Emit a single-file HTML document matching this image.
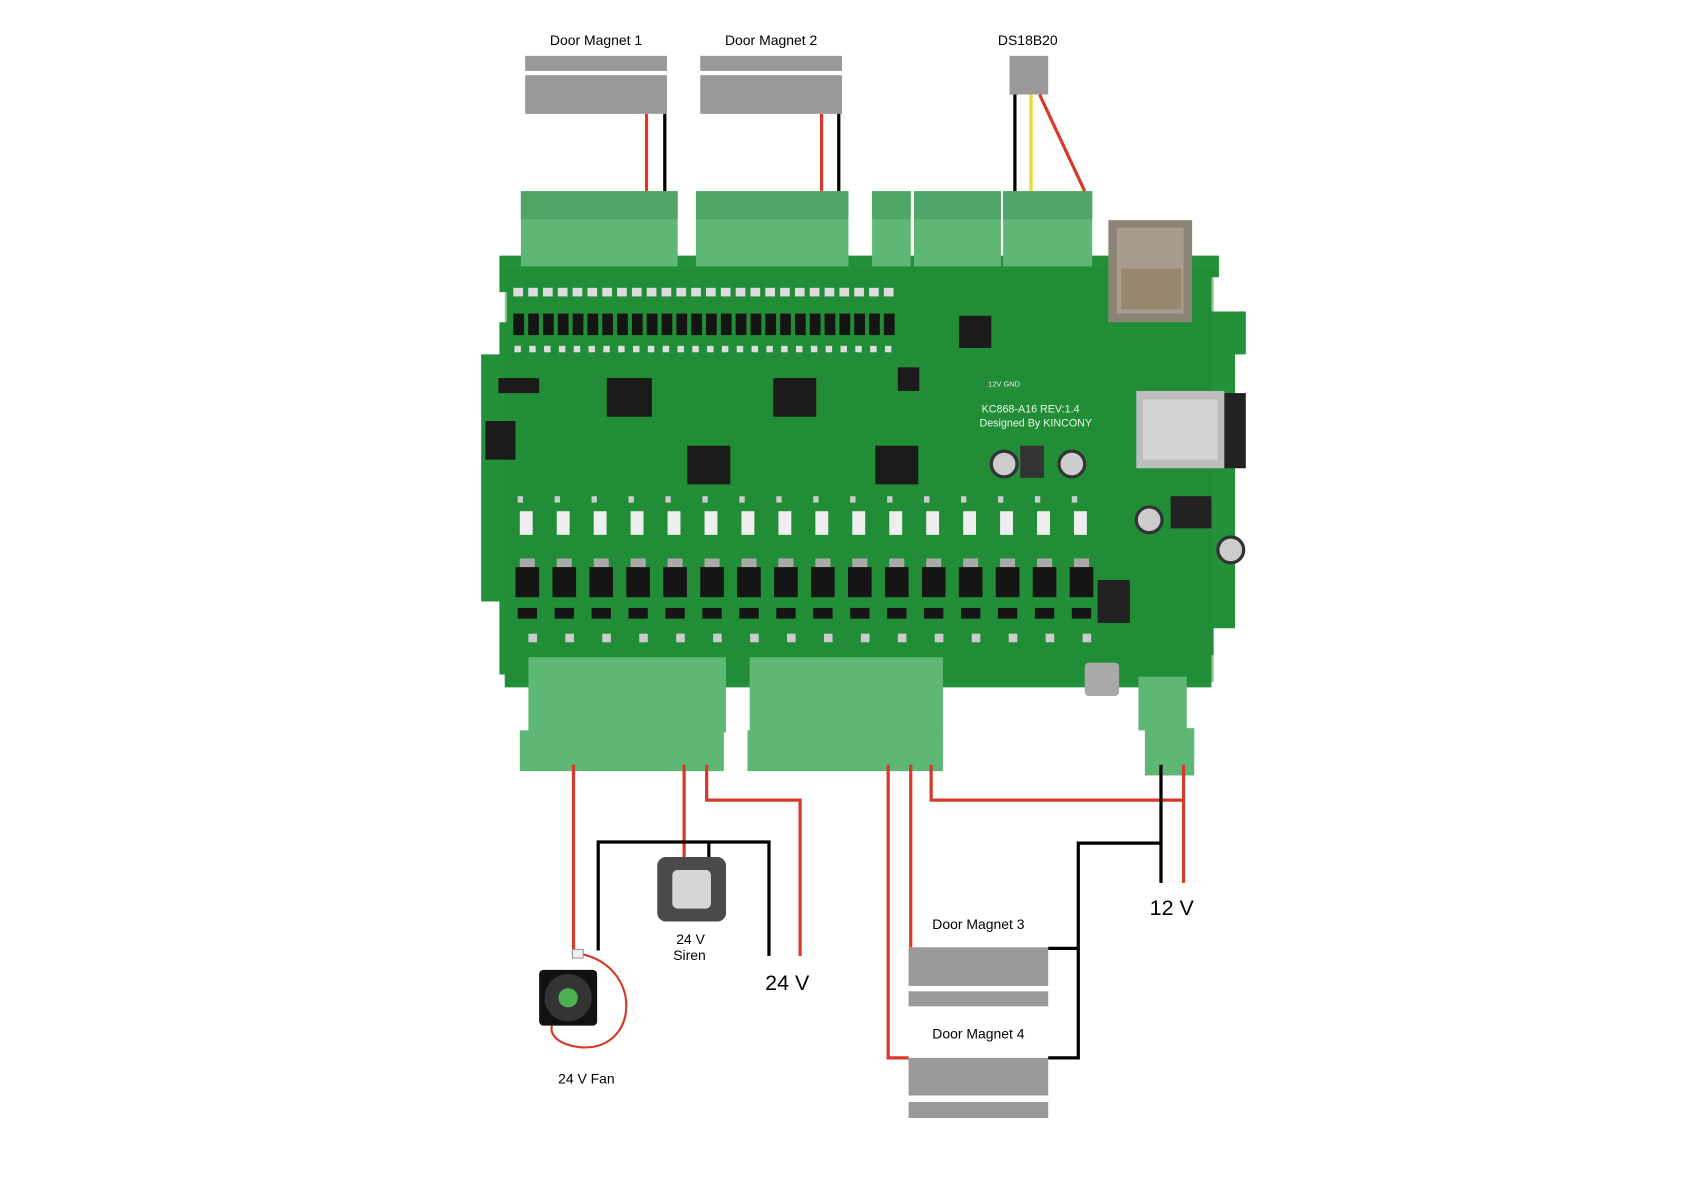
<!DOCTYPE html>
<html><head><meta charset="utf-8">
<style>
html,body{margin:0;padding:0;background:#fff;width:1684px;height:1190px;overflow:hidden}
svg{display:block}
text{font-family:"Liberation Sans",sans-serif;fill:#000}
</style></head><body>
<svg id="s" width="1684" height="1190" viewBox="0 0 1568 1108" preserveAspectRatio="none" xmlns="http://www.w3.org/2000/svg">
<path d="M465 238 H1135 V258 H1128 V290 H1160 V330 H1150 V585 H1130 V610 H1128 V640 H470 V628 H465 V560 H448 V330 H465 V300 H472 V272 H465 Z" fill="#23913a"/>
<rect x="470" y="250" width="660" height="385" fill="#1f8a33" opacity="0.5"/>
<rect x="1032" y="205" width="78" height="95" fill="#8d8478"/>
<rect x="1040" y="212" width="62" height="80" fill="#a89c8c"/>
<rect x="1044" y="250" width="56" height="38" fill="#9a8770"/>
<rect x="1138" y="366" width="22" height="70" fill="#222"/>
<rect x="1058" y="364" width="82" height="72" fill="#bdbdbd"/>
<rect x="1064" y="372" width="70" height="56" fill="#d3d3d3"/>
<rect x="565" y="352" width="42" height="36" fill="#1b1b1b"/>
<rect x="720" y="352" width="40" height="36" fill="#1b1b1b"/>
<rect x="640" y="415" width="40" height="36" fill="#1b1b1b"/>
<rect x="815" y="415" width="40" height="36" fill="#1b1b1b"/>
<rect x="893" y="294" width="30" height="30" fill="#1b1b1b"/>
<rect x="836" y="342" width="20" height="22" fill="#1b1b1b"/>
<rect x="950" y="415" width="22" height="30" fill="#333"/>
<circle cx="935" cy="432" r="12" fill="#ccc" stroke="#333" stroke-width="3"/>
<circle cx="998" cy="432" r="12" fill="#ccc" stroke="#333" stroke-width="3"/>
<circle cx="1070" cy="484" r="12" fill="#ccc" stroke="#333" stroke-width="3"/>
<circle cx="1146" cy="512" r="12" fill="#ccc" stroke="#333" stroke-width="3"/>
<rect x="1090" y="462" width="38" height="30" fill="#222"/>
<rect x="1022" y="540" width="30" height="40" fill="#222"/>
<rect x="452" y="392" width="28" height="36" fill="#1b1b1b"/>
<rect x="464" y="352" width="38" height="14" fill="#1b1b1b"/>
<text x="914" y="384" font-size="10" style="fill:#e8f5e8">KC868-A16   REV:1.4</text>
<text x="912" y="397" font-size="10" style="fill:#e8f5e8">Designed By  KINCONY</text>
<text x="920" y="360" font-size="7" style="fill:#e8f5e8">12V  GND</text>
<g id="rep"></g>
<g fill="#5fb775">
<rect x="485" y="178" width="146" height="70"/>
<rect x="648" y="178" width="142" height="70"/>
<rect x="812" y="178" width="36" height="70"/>
<rect x="851" y="178" width="81" height="70"/>
<rect x="934" y="178" width="83" height="70"/>
</g>
<g fill="#4fa566">
<rect x="485" y="178" width="146" height="26"/>
<rect x="648" y="178" width="142" height="26"/>
<rect x="812" y="178" width="36" height="26"/>
<rect x="851" y="178" width="81" height="26"/>
<rect x="934" y="178" width="83" height="26"/>
</g>
<g fill="#5fb775">
<rect x="492" y="612" width="184" height="70"/>
<rect x="698" y="612" width="180" height="70"/>
<rect x="484" y="680" width="190" height="38"/>
<rect x="696" y="680" width="182" height="38"/>
<rect x="1060" y="630" width="45" height="50"/>
<rect x="1066" y="678" width="46" height="44"/>
</g>
<rect x="1010" y="617" width="32" height="31" rx="4" fill="#a9a9a9"/>
<g fill="#999">
<rect x="489" y="52" width="132" height="14"/><rect x="489" y="70" width="132" height="36"/>
<rect x="652" y="52" width="132" height="14"/><rect x="652" y="70" width="132" height="36"/>
<rect x="940" y="52" width="36" height="36"/>
<rect x="846" y="882" width="130" height="36"/><rect x="846" y="923" width="130" height="14"/>
<rect x="846" y="985" width="130" height="35"/><rect x="846" y="1026" width="130" height="15"/>
</g>
<g fill="none" stroke-width="3">
<line x1="602" y1="106" x2="602" y2="178" stroke="#d63a2a"/>
<line x1="619" y1="106" x2="619" y2="178" stroke="#000"/>
<line x1="765" y1="106" x2="765" y2="178" stroke="#d63a2a"/>
<line x1="781" y1="106" x2="781" y2="178" stroke="#000"/>
<line x1="945" y1="88" x2="945" y2="178" stroke="#000"/>
<line x1="960" y1="88" x2="960" y2="178" stroke="#f5d430"/>
<line x1="968" y1="88" x2="1010" y2="178" stroke="#d63a2a"/>
<polyline points="534,712 534,890" stroke="#d63a2a"/>
<polyline points="637,712 637,800" stroke="#d63a2a"/>
<polyline points="658,712 658,745 745,745 745,890" stroke="#d63a2a"/>
<polyline points="557,885 557,784 716,784 716,890" stroke="#000"/>
<polyline points="660,784 660,800" stroke="#000"/>
<polyline points="827,712 827,985 846,985" stroke="#d63a2a"/>
<polyline points="848,712 848,882" stroke="#d63a2a"/>
<polyline points="867,712 867,745 1102,745" stroke="#d63a2a"/>
<polyline points="1102,712 1102,822" stroke="#d63a2a"/>
<polyline points="1081,712 1081,822" stroke="#000"/>
<polyline points="1081,785 1004,785 1004,985 976,985" stroke="#000"/>
<polyline points="1004,883 976,883" stroke="#000"/>
<path d="M540 888 C600 900 595 980 540 975 C515 972 512 960 514 955" stroke="#d63a2a" stroke-width="2"/>
</g>
<rect x="612" y="798" width="64" height="60" rx="8" fill="#4a4a4a"/>
<rect x="626" y="810" width="36" height="36" rx="5" fill="#d6d6d6"/>
<rect x="502" y="903" width="54" height="52" rx="4" fill="#111"/>
<circle cx="529" cy="929" r="22" fill="#333"/>
<circle cx="529" cy="929" r="9" fill="#4caf50"/>
<rect x="533" y="884" width="10" height="8" fill="#eee" stroke="#999"/>
<text x="555" y="42" font-size="13" text-anchor="middle">Door Magnet 1</text>
<text x="718" y="42" font-size="13" text-anchor="middle">Door Magnet 2</text>
<text x="957" y="42" font-size="13" text-anchor="middle">DS18B20</text>
<text x="643" y="879" font-size="13" text-anchor="middle">24 V</text>
<text x="642" y="894" font-size="13" text-anchor="middle">Siren</text>
<text x="733" y="922" font-size="20" text-anchor="middle">24 V</text>
<text x="546" y="1009" font-size="13" text-anchor="middle">24 V Fan</text>
<text x="911" y="865" font-size="13" text-anchor="middle">Door Magnet 3</text>
<text x="911" y="967" font-size="13" text-anchor="middle">Door Magnet 4</text>
<text x="1091" y="852" font-size="20" text-anchor="middle">12 V</text>
</svg>
<script>
var g=document.getElementById('rep'),h='';
function r(x,y,w,hh,c){h+='<rect x="'+x+'" y="'+y+'" width="'+w+'" height="'+hh+'" fill="'+c+'"/>';}
function c(x,y,rr,f){h+='<circle cx="'+x+'" cy="'+y+'" r="'+rr+'" fill="'+f+'" stroke="#3d7a4c" stroke-width="1"/>';}
for(var i=0;i<26;i++){var x=478+i*13.8;r(x,292,10,20,'#151515');r(x,268,9,8,'#ddd');r(x+1,322,6,6,'#ddd');}
for(var i=0;i<16;i++){var x=480+i*34.4;r(x+4,476,12,22,'#eee');r(x,528,22,28,'#151515');r(x+4,520,14,8,'#aaa');r(x+2,566,18,10,'#151515');r(x+2,462,5,6,'#ccc');r(x+12,590,8,8,'#ccc');}
function sc(x0,n,step,y,rad){for(var i=0;i<n;i++)c(x0+i*step,y,rad,'#b8c6bb');}
sc(493,9,16,192,5.5);sc(656,9,16,192,5.5);sc(821,2,17,192,5.5);sc(859,5,16,192,5.5);sc(943,5,16,192,5.5);
sc(493,9,20.8,695,6.5);sc(706,9,20.5,697,6.5);sc(1080,2,22,702,6.5);
for(var i=0;i<9;i++){r(489+i*20.8,706,8,5,'#3f8a52');r(702+i*20.5,708,8,5,'#3f8a52');}
g.innerHTML=h;
</script>
</body></html>
